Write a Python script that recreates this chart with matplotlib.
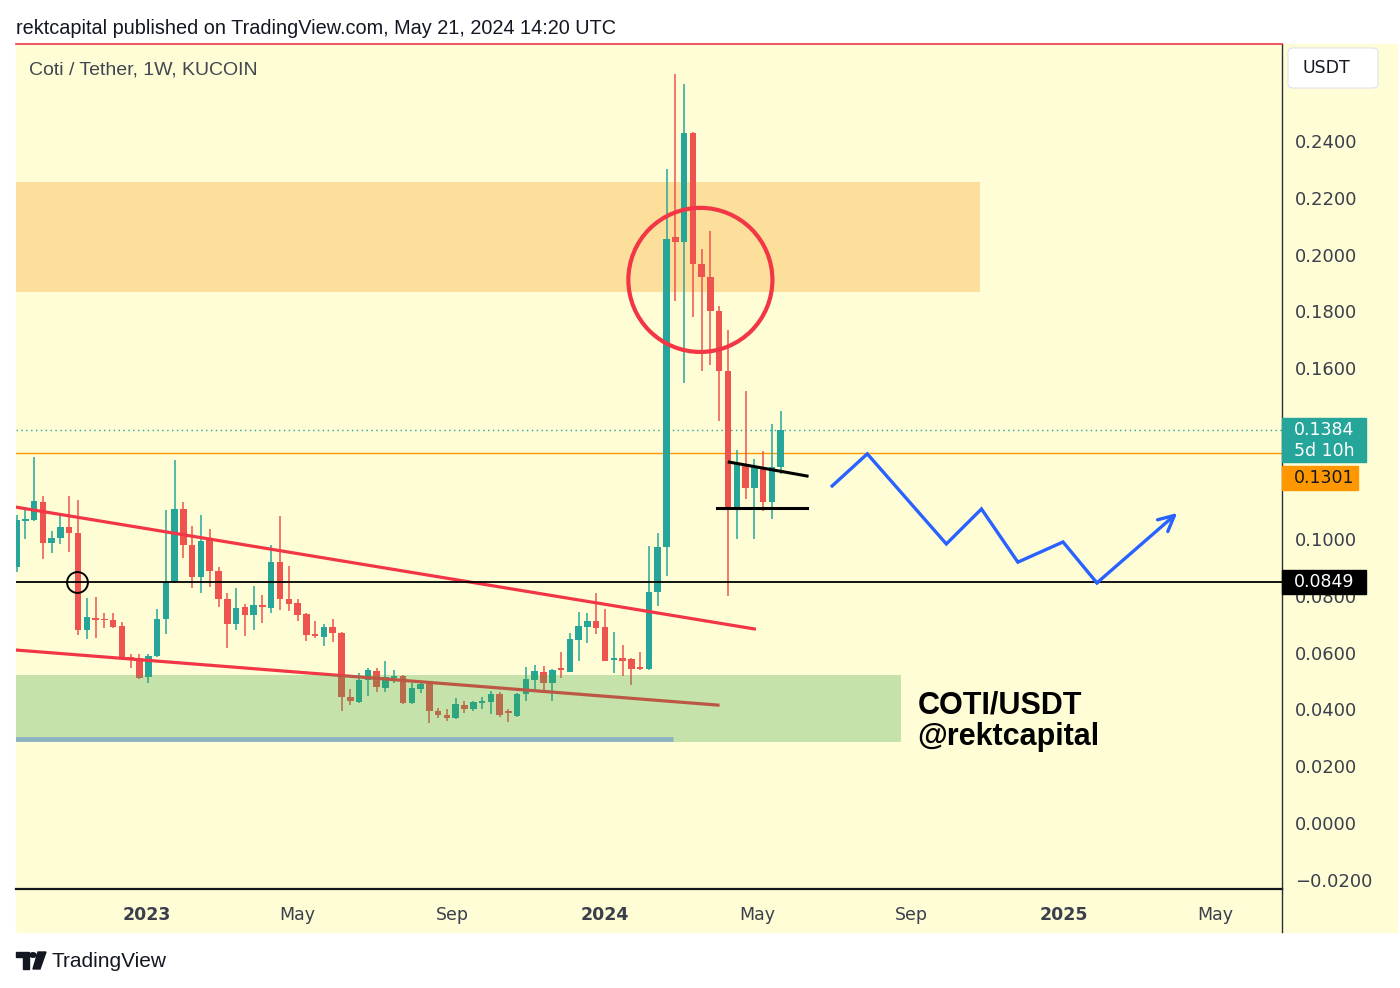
import numpy as np
import pandas as pd
import matplotlib
matplotlib.use('Agg')
import matplotlib.pyplot as plt
import matplotlib.dates as mdates
from matplotlib.patches import Rectangle, Ellipse, FancyBboxPatch, Polygon, Circle
from matplotlib.lines import Line2D

# weekly COTI/USDT candles (KuCoin), first week starts 2022-09-19
week_start = '2022-09-19'
opens = [0.0901, 0.1064, 0.1066, 0.1130, 0.0985, 0.1003, 0.1042, 0.1021, 0.0679, 0.0721,
         0.0716, 0.0714, 0.0693, 0.0585, 0.0581, 0.0513, 0.0588, 0.0718, 0.0848, 0.1105,
         0.0978, 0.0866, 0.1003, 0.0887, 0.0788, 0.0700, 0.0760, 0.0732, 0.0767, 0.0757,
         0.0918, 0.0788, 0.0774, 0.0735, 0.0665, 0.0655, 0.0690, 0.0669, 0.0443, 0.0426,
         0.0503, 0.0535, 0.0475, 0.0510, 0.0517, 0.0422, 0.0472, 0.0489, 0.0394, 0.0380,
         0.0369, 0.0415, 0.0401, 0.0422, 0.0426, 0.0454, 0.0391, 0.0377, 0.0454, 0.0503,
         0.0531, 0.0493, 0.0542, 0.0531, 0.0644, 0.0690, 0.0711, 0.0690, 0.0574, 0.0581,
         0.0577, 0.0549, 0.0542, 0.0813, 0.0971, 0.2062, 0.2045, 0.2428, 0.1967, 0.1921,
         0.1802, 0.1591, 0.1112, 0.1263, 0.1179, 0.1253, 0.1130, 0.1253]
highs = [0.1084, 0.1112, 0.1288, 0.1151, 0.1028, 0.1087, 0.1151, 0.1137, 0.0792, 0.0795,
         0.0739, 0.0739, 0.0707, 0.0595, 0.0595, 0.0595, 0.0753, 0.1101, 0.1277, 0.1130,
         0.1045, 0.1084, 0.1035, 0.0901, 0.0809, 0.0827, 0.0771, 0.0834, 0.0802, 0.0978,
         0.1080, 0.0904, 0.0788, 0.0739, 0.0711, 0.0700, 0.0718, 0.0672, 0.0472, 0.0528,
         0.0545, 0.0545, 0.0570, 0.0538, 0.0520, 0.0493, 0.0496, 0.0496, 0.0405, 0.0401,
         0.0440, 0.0429, 0.0429, 0.0443, 0.0465, 0.0461, 0.0401, 0.0457, 0.0549, 0.0556,
         0.0552, 0.0542, 0.0602, 0.0669, 0.0743, 0.0739, 0.0809, 0.0753, 0.0672, 0.0626,
         0.0581, 0.0602, 0.0975, 0.1021, 0.2301, 0.2636, 0.2601, 0.2432, 0.2020, 0.2083,
         0.1819, 0.1735, 0.1313, 0.1520, 0.1281, 0.1309, 0.1404, 0.1450]
lows = [0.0883, 0.0999, 0.1063, 0.0929, 0.0950, 0.0982, 0.0954, 0.0662, 0.0647, 0.0651,
        0.0686, 0.0686, 0.0574, 0.0545, 0.0508, 0.0493, 0.0584, 0.0665, 0.0845, 0.0933,
        0.0827, 0.0809, 0.0830, 0.0760, 0.0616, 0.0679, 0.0658, 0.0679, 0.0704, 0.0739,
        0.0750, 0.0746, 0.0711, 0.0640, 0.0651, 0.0623, 0.0637, 0.0394, 0.0415, 0.0422,
        0.0447, 0.0461, 0.0461, 0.0493, 0.0419, 0.0419, 0.0457, 0.0352, 0.0369, 0.0359,
        0.0366, 0.0387, 0.0394, 0.0401, 0.0384, 0.0373, 0.0355, 0.0373, 0.0429, 0.0468,
        0.0468, 0.0429, 0.0510, 0.0531, 0.0570, 0.0633, 0.0665, 0.0570, 0.0528, 0.0517,
        0.0486, 0.0538, 0.0538, 0.0764, 0.0869, 0.1837, 0.1548, 0.1781, 0.1591, 0.1612,
        0.1415, 0.0799, 0.0999, 0.1140, 0.0999, 0.1098, 0.1070, 0.1228]
closes = [0.1066, 0.1070, 0.1133, 0.0985, 0.1003, 0.1042, 0.1021, 0.0679, 0.0725, 0.0714,
          0.0713, 0.0690, 0.0577, 0.0578, 0.0510, 0.0588, 0.0718, 0.0848, 0.1105, 0.0978,
          0.0866, 0.0992, 0.0887, 0.0788, 0.0700, 0.0757, 0.0732, 0.0767, 0.0760, 0.0918,
          0.0788, 0.0771, 0.0732, 0.0662, 0.0658, 0.0690, 0.0669, 0.0443, 0.0429, 0.0503,
          0.0538, 0.0479, 0.0514, 0.0517, 0.0422, 0.0475, 0.0489, 0.0394, 0.0380, 0.0369,
          0.0419, 0.0401, 0.0426, 0.0429, 0.0454, 0.0380, 0.0387, 0.0454, 0.0507, 0.0535,
          0.0493, 0.0538, 0.0538, 0.0647, 0.0693, 0.0711, 0.0686, 0.0570, 0.0581, 0.0570,
          0.0542, 0.0542, 0.0813, 0.0971, 0.2055, 0.2045, 0.2428, 0.1967, 0.1921, 0.1802,
          0.1591, 0.1112, 0.1263, 0.1179, 0.1253, 0.1130, 0.1253, 0.1384]

last_price = 0.1384
orange_level = 0.1301
support_level = 0.0849

# drawings on the chart
supply_zone = (0.1869, 0.2256)
supply_zone_end = '2024-10-26'
demand_zone = (0.0285, 0.0521)
demand_zone_end = '2024-08-24'
blue_ray_price = 0.0295
blue_ray_end = '2024-02-24'
upper_trend_dates = ['2022-09-18', '2024-04-29']
upper_trend_prices = [0.1112, 0.0683]
lower_trend_dates = ['2022-09-18', '2024-03-31']
lower_trend_prices = [0.0609, 0.0415]
tri_top_dates = ['2024-04-09', '2024-06-10']
tri_top_prices = [0.1270, 0.1221]
tri_bot_dates = ['2024-03-30', '2024-06-10']
tri_bot_prices = [0.1110, 0.1110]
path_dates = ['2024-06-30', '2024-07-28', '2024-09-29', '2024-10-27', '2024-11-25',
              '2024-12-31', '2025-01-27', '2025-04-01']
path_prices = [0.1186, 0.1299, 0.0982, 0.1105, 0.0918, 0.0989, 0.0845, 0.1091]
circle_date, circle_price = '2024-03-17', 0.1911
marker_date = '2022-11-06'

tick_dates = ['2023-01-01', '2023-05-01', '2023-09-01', '2024-01-01',
              '2024-05-01', '2024-09-01', '2025-01-01', '2025-05-01']
tick_labels = ['2023', 'May', 'Sep', '2024', 'May', 'Sep', '2025', 'May']

W, H = 1400, 988
bg = '#fefdd6'
teal = '#26a69a'
red = '#ef5350'
line_red = '#f23645'
axis_col = '#2a2e39'

fig = plt.figure(figsize=(14, 9.88), dpi=100)
fig.patch.set_facecolor('white')


def fx(px):
    return px / W


def fy(py):
    return 1 - py / H


fig.add_artist(Rectangle((fx(16), fy(932)), fx(1397) - fx(16), fy(44) - fy(932),
                         transform=fig.transFigure, color=bg, zorder=0))

ax = fig.add_axes([fx(16), fy(889), fx(1282) - fx(16), fy(44) - fy(889)])
ax.set_facecolor(bg)
x0 = mdates.date2num(pd.Timestamp('2023-01-01'))
ax.set_xlim(x0 - 104.4, x0 + 904.5)
ax.set_ylim(-0.0232, 0.2741)

dates = pd.date_range(week_start, periods=len(opens), freq='7D')
o = np.array(opens)
c = np.array(closes)
col = np.where(c >= o, teal, red)

# zones
ax.fill_between(pd.to_datetime(['2022-09-01', supply_zone_end]), supply_zone[0], supply_zone[1],
                color='#fab442', alpha=0.4, lw=0, zorder=1)

# candles
ax.vlines(dates, lows, highs, colors=col, lw=1.1, zorder=3)
ax.bar(dates, np.maximum(np.abs(c - o), 0.0006), bottom=np.minimum(o, c), width=5.2,
       color=col, lw=0, zorder=3.1)

# horizontal levels
ax.axhline(last_price, color=teal, lw=1, ls=(0, (1, 2.5)), zorder=2)
ax.axhline(orange_level, color='#ff9800', lw=1, zorder=2)
ax.axhline(support_level, color='black', lw=1.3, zorder=3.6)
ax.plot(pd.to_datetime([marker_date]), [support_level], 'o', ms=15, mfc='none', mec='black',
        mew=1.4, zorder=4)

# trendlines
ax.plot(pd.to_datetime(upper_trend_dates), upper_trend_prices, color=line_red, lw=2.3, zorder=3.5)
ax.plot(pd.to_datetime(lower_trend_dates), lower_trend_prices, color=line_red, lw=2.3, zorder=3.5)

ax.fill_between(pd.to_datetime(['2022-09-01', demand_zone_end]), demand_zone[0], demand_zone[1],
                color='#3ea643', alpha=0.3, lw=0, zorder=4)
ax.plot(pd.to_datetime(['2022-09-01', blue_ray_end]), [blue_ray_price] * 2, color='#8fb2c2',
        lw=3.5, solid_capstyle='butt', zorder=4.1)

# triangle
ax.plot(pd.to_datetime(tri_top_dates), tri_top_prices, color='black', lw=2.2, zorder=5)
ax.plot(pd.to_datetime(tri_bot_dates), tri_bot_prices, color='black', lw=2.2, zorder=5)

# circle around rejection
ax.add_patch(Ellipse((mdates.date2num(pd.Timestamp(circle_date)), circle_price), 114.8, 0.0507,
                     fill=False, ec=line_red, lw=3, zorder=5))

# projected path
pd_path = pd.to_datetime(path_dates)
ax.plot(pd_path[:-1], path_prices[:-1], color='#2962ff', lw=2.4, zorder=5,
        solid_joinstyle='miter')
ax.annotate('', xy=(pd_path[-1], path_prices[-1]), xytext=(pd_path[-2], path_prices[-2]),
            arrowprops=dict(arrowstyle='->', color='#2962ff', lw=2.4, mutation_scale=28,
                            shrinkA=0, shrinkB=0), zorder=5)

ax.text(pd.Timestamp('2024-09-06'), 0.0359, 'COTI/USDT\n@rektcapital', fontsize=22,
        fontweight='bold', family='Liberation Sans', va='center', ha='left',
        linespacing=1.05, color='black', zorder=6)

# axes styling
ax.spines['left'].set_visible(False)
ax.spines['top'].set_color(line_red)
ax.spines['top'].set_linewidth(1.2)
ax.spines['right'].set_color(axis_col)
ax.spines['right'].set_linewidth(1)
ax.spines['bottom'].set_color('#131722')
ax.spines['bottom'].set_linewidth(1.6)
fig.add_artist(Line2D([fx(1282)] * 2, [fy(889), fy(932)], color=axis_col, lw=1,
                      transform=fig.transFigure))

ax.yaxis.tick_right()
yt = np.round(np.arange(-0.02, 0.2401, 0.02), 4)
ax.set_yticks(yt)
# 0.1200 and 0.1400 sit under the price tags
ax.set_yticklabels(['' if v in (0.12, 0.14) else ('%.4f' % v).replace('-', '\u2212') for v in yt])
ax.tick_params(axis='y', length=0, pad=9.5, labelsize=13, labelcolor='#3b3f4c')

ax.set_xticks(pd.to_datetime(tick_dates))
ax.set_xticklabels(tick_labels)
ax.tick_params(axis='x', length=0, pad=12, labelsize=12.5, labelcolor='#3b3f4c')
for lab in ax.get_xticklabels():
    if lab.get_text().isdigit():
        lab.set_fontweight('bold')

# price tags on the scale
fig.add_artist(Rectangle((fx(1282), fy(462)), fx(1366) - fx(1282), fy(418) - fy(462),
                         transform=fig.transFigure, color=teal, zorder=5))
fig.text(fx(1294), fy(430), '%.4f' % last_price, color='white', fontsize=12.5, va='center',
         zorder=6)
fig.text(fx(1294), fy(451), '5d 10h', color='white', fontsize=12.5, va='center', zorder=6)
fig.add_artist(Rectangle((fx(1282), fy(490)), fx(1358) - fx(1282), fy(466) - fy(490),
                         transform=fig.transFigure, color='#ff9800', zorder=5))
fig.text(fx(1294), fy(478), '%.4f' % orange_level, color='#131722', fontsize=12.5, va='center',
         zorder=6)
fig.add_artist(Rectangle((fx(1282), fy(594)), fx(1366) - fx(1282), fy(570) - fy(594),
                         transform=fig.transFigure, color='black', zorder=5))
fig.text(fx(1294), fy(582), '%.4f' % support_level, color='white', fontsize=12.5, va='center',
         zorder=6)

# currency box
fig.add_artist(FancyBboxPatch((fx(1288), fy(88)), fx(1378) - fx(1288), fy(48) - fy(88),
                              boxstyle='round,pad=0,rounding_size=0.004',
                              transform=fig.transFigure, fc='white', ec='#e0e3eb', lw=0.8))
fig.text(fx(1326), fy(68), 'USDT', color='#131722', fontsize=12.5, va='center', ha='center',
         zorder=6)

# header and titles
fig.text(fx(16), fy(28), 'rektcapital published on TradingView.com, May 21, 2024 14:20 UTC',
         fontsize=14.3, family='Liberation Sans', color='#131722', va='center', ha='left')
fig.text(fx(29), fy(70), 'Coti / Tether, 1W, KUCOIN', fontsize=14, family='Liberation Sans',
         color='#434651', va='center', ha='left')

# footer logo
fig.add_artist(Polygon([(fx(16), fy(952)), (fx(29), fy(952)), (fx(29), fy(969)), (fx(23), fy(969)),
                        (fx(23), fy(957)), (fx(16), fy(957))], closed=True,
                       transform=fig.transFigure, color='#131722'))
fig.add_artist(Circle((fx(33), fy(955)), 3.2 / W, transform=fig.transFigure, color='#131722'))
fig.add_artist(Polygon([(fx(38), fy(952)), (fx(46), fy(952)), (fx(40), fy(969)), (fx(33), fy(969))],
                       closed=True, transform=fig.transFigure, color='#131722'))
fig.text(fx(52), fy(961), 'TradingView', fontsize=15, family='Liberation Sans',
         color='#131722', va='center', ha='left')

fig.savefig('out.png', dpi=100, facecolor='white')
